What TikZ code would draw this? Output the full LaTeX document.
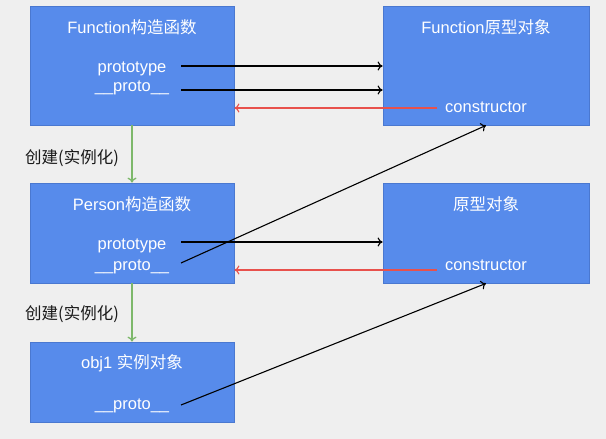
\documentclass[tikz,border=0pt]{standalone}
\usepackage{fontspec}
\setmainfont{Liberation Sans}
\newfontfamily\cjk{Noto Sans CJK SC}
\usetikzlibrary{arrows.meta}
\definecolor{bgc}{HTML}{EFEFEF}
\definecolor{boxc}{HTML}{578BEB}
\definecolor{boxb}{HTML}{4A78D0}
\definecolor{greenc}{HTML}{7DB86A}
\definecolor{redc}{HTML}{E8514C}
\tikzset{
  objbox/.style={draw=boxb, line width=0.8pt, fill=boxc, inner sep=0pt},
  wtext/.style={text=white, font=\fontsize{16.5}{18}\selectfont, anchor=base, inner sep=0pt},
  ltext/.style={text=black!90, font=\fontsize{16.5}{18}\selectfont, anchor=base west, inner sep=0pt},
  blk/.style={draw=black, line width=1.1pt, -{To[length=5pt,width=9pt]}},
  redarr/.style={draw=redc, line width=1.1pt, -{To[length=5pt,width=9pt]}},
  grnarr/.style={draw=greenc, line width=1.3pt, -{To[length=5pt,width=9pt]}},
}
\begin{document}
\begin{tikzpicture}[x=1pt,y=-1pt]
\useasboundingbox (0,0) rectangle (606,439);
\fill[bgc] (0,0) rectangle (606,439);

% boxes
\node[objbox, minimum width=204pt, minimum height=119pt] (fc) at (132,65.5) {};
\node[objbox, minimum width=206pt, minimum height=119pt] (fp) at (486,65.5) {};
\node[objbox, minimum width=204pt, minimum height=100pt] (pc) at (132,233) {};
\node[objbox, minimum width=206pt, minimum height=100pt] (pp) at (486,233) {};
\node[objbox, minimum width=204pt, minimum height=80pt] (ob) at (132,382) {};

% texts
\node[wtext] (fct) at (132,33) {Function{\cjk 构造函数}};
\node[wtext] (fcpt) at (132,72) {prototype};
\node[wtext] (fcpr) at (132,91) {\_\_proto\_\_};
\node[wtext] (fpt) at (486,33) {Function{\cjk 原型对象}};
\node[wtext] (fpc) at (486,112) {constructor};

\node[wtext] (pct) at (132,210) {Person{\cjk 构造函数}};
\node[wtext] (pcpt) at (132,249) {prototype};
\node[wtext] (pcpr) at (132,270) {\_\_proto\_\_};
\node[wtext] (ppt) at (486,210) {{\cjk 原型对象}};
\node[wtext] (ppc) at (486,270) {constructor};

\node[wtext] (obt) at (132,368) {obj1 {\cjk 实例对象}};
\node[wtext] (obpr) at (132,409) {\_\_proto\_\_};

\node[ltext] (l1) at (25,163) {{\cjk 创建(实例化)}};
\node[ltext] (l2) at (25,319) {{\cjk 创建(实例化)}};

% connector anchor points
\coordinate (a1) at (181,66);
\coordinate (a2) at (181,90);
\coordinate (r1) at (437,108);
\coordinate (a3) at (181,242);
\coordinate (a4) at (181,263);
\coordinate (r2) at (437,270);
\coordinate (a5) at (181,405);

% connectors
\draw[blk] (a1) -- (fp.west |- a1);
\draw[blk] (a2) -- (fp.west |- a2);
\draw[redarr] (r1) -- (fc.east |- r1);
\draw[grnarr] (fc.south) -- (pc.north);
\draw[blk] (a3) -- (pp.west |- a3);
\draw[blk] (a4) -- (fp.south);
\draw[redarr] (r2) -- (pc.east |- r2);
\draw[grnarr] (pc.south) -- (ob.north);
\draw[blk] (a5) -- (pp.south);
\end{tikzpicture}
\end{document}
